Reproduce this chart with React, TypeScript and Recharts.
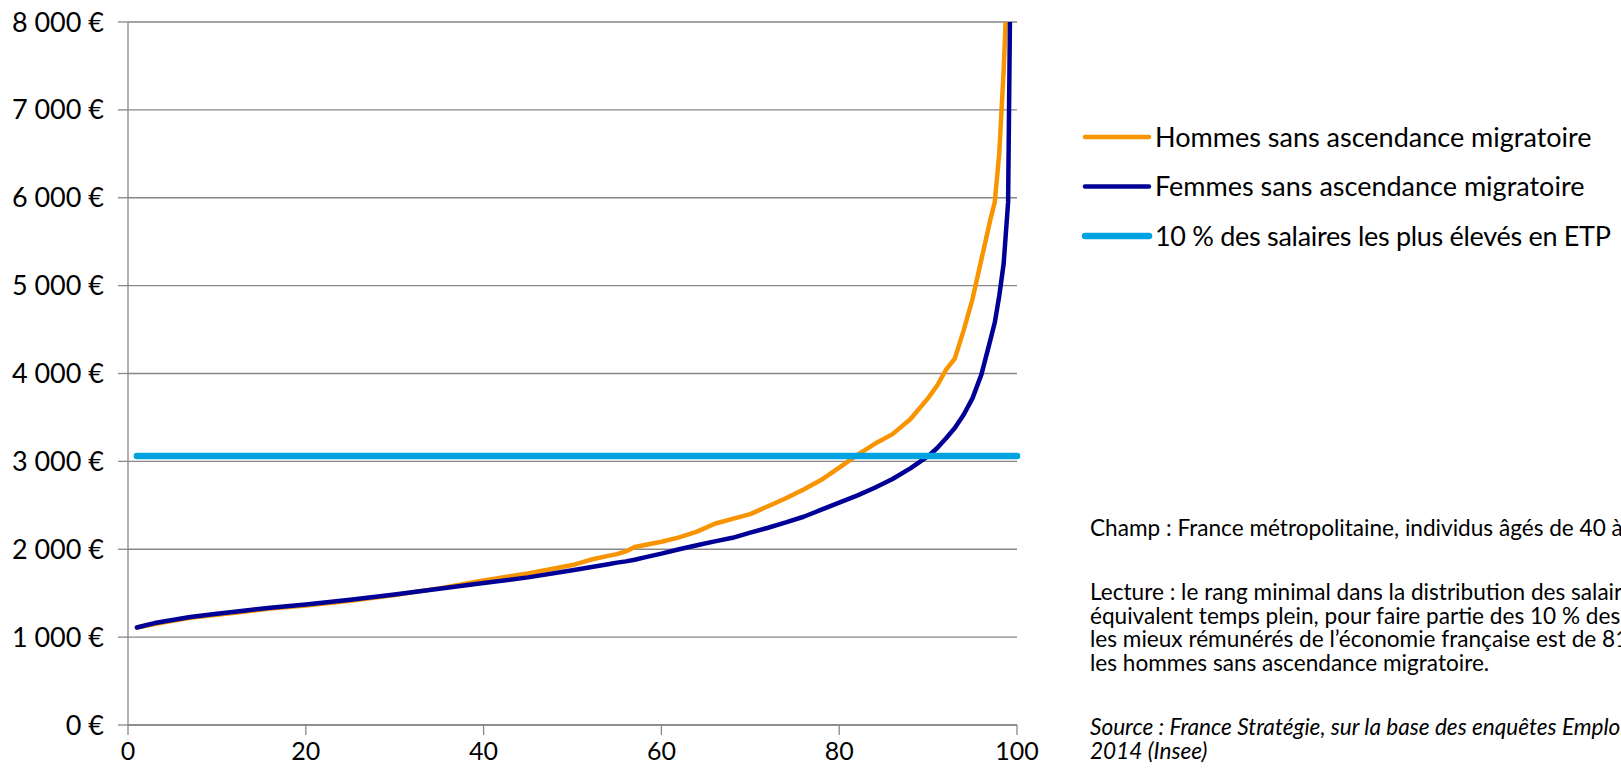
import { CartesianGrid, Legend, Line, LineChart, XAxis, YAxis } from "recharts";

// percentile rank in the wage distribution (full-time equivalent)
const percentiles = [
  1, 2, 3, 5, 7, 10, 13, 16, 20, 25, 30, 35, 40, 45, 50, 52, 54, 55, 56, 57, 58, 60, 62, 64, 66,
  68, 70, 72, 74, 76, 78, 80, 82, 84, 86, 88, 90, 91, 92, 93, 94, 95, 96, 97, 97.5, 98, 98.5, 99,
  99.5, 100,
];

const hommes = [
  1110, 1130, 1150, 1185, 1220, 1255, 1290, 1325, 1360, 1415, 1480, 1555, 1645, 1725, 1820, 1880,
  1925, 1945, 1975, 2025, 2045, 2085, 2135, 2200, 2290, 2345, 2400, 2490, 2580, 2680, 2790, 2930,
  3070, 3200, 3310, 3480, 3720, 3860, 4040, 4170, 4490, 4850, 5300, 5750, 5950, 6500, 7450, 8700,
  14000, 20000,
];

const femmes = [
  1110, 1135, 1160, 1195, 1230, 1265, 1300, 1335, 1370, 1425, 1485, 1550, 1615, 1680, 1760, 1795,
  1830, 1848, 1862, 1880, 1905, 1950, 2000, 2045, 2090, 2130, 2190, 2245, 2305, 2370, 2450, 2530,
  2610, 2700, 2800, 2920, 3060, 3150, 3260, 3380, 3530, 3720, 3990, 4380, 4580, 4880, 5250, 5950,
  11000, 16000,
];

// threshold of the top 10 % FTE wages, drawn from rank 1 to rank 100
const seuilPercentiles = [1, 100];
const seuilValeurs = [3060, 3060];

const xTicks = [0, 20, 40, 60, 80, 100];
const yTicks = [0, 1000, 2000, 3000, 4000, 5000, 6000, 7000, 8000];

const series = [
  { key: "hommes", name: "Hommes sans ascendance migratoire", color: "#F79400", width: 4.5, spacing: 0 },
  { key: "femmes", name: "Femmes sans ascendance migratoire", color: "#000096", width: 4.5, spacing: 0 },
  { key: "seuil", name: "10 % des salaires les plus élevés en ETP", color: "#00A2E1", width: 6.5, spacing: -0.3 },
];

const notes = [
  { text: "Champ : France métropolitaine, individus âgés de 40 à 59 ans.", y: 536, italic: false },
  { text: "Lecture : le rang minimal dans la distribution des salaires en", y: 600, italic: false },
  { text: "équivalent temps plein, pour faire partie des 10 % des salariés", y: 623.5, italic: false },
  { text: "les mieux rémunérés de l’économie française est de 81 pour", y: 647, italic: false },
  { text: "les hommes sans ascendance migratoire.", y: 670.5, italic: false },
  { text: "Source : France Stratégie, sur la base des enquêtes Emploi", y: 735, italic: true },
  { text: "2014 (Insee)", y: 758.5, italic: true },
];

const FONT = "Lato, 'Open Sans', sans-serif";
const GRID = "#878787";

const rows = percentiles.map((p, i) => ({ p, hommes: hommes[i], femmes: femmes[i] }));
const seuilRows = seuilPercentiles.map((p, i) => ({ p, seuil: seuilValeurs[i] }));

function euros(v: number): string {
  return `${String(v).replace(/\B(?=(\d{3})+(?!\d))/g, " ")} €`;
}

function LegendBox() {
  return (
    <svg width={551} height={170}>
      {series.map((s, i) => {
        const cy = 37 + i * 49.5;
        return (
          <g key={s.key}>
            <line
              x1={15}
              x2={79}
              y1={cy}
              y2={cy}
              stroke={s.color}
              strokeWidth={s.width}
              strokeLinecap="round"
            />
            <text
              x={85}
              y={cy + 9.5}
              fontFamily={FONT}
              fontSize={27}
              letterSpacing={s.spacing}
              fill="#000"
            >
              {s.name}
            </text>
          </g>
        );
      })}
    </svg>
  );
}

export default function App() {
  return (
    <div
      style={{
        position: "absolute",
        left: 0,
        top: 0,
        width: 1621,
        height: 773,
        overflow: "hidden",
        background: "#fff",
      }}
    >
      <LineChart
        width={1621}
        height={773}
        data={rows}
        margin={{ top: 22, right: 604, bottom: 0, left: 0 }}
      >
        <CartesianGrid vertical={false} stroke={GRID} strokeWidth={1.3} />
        <XAxis
          dataKey="p"
          type="number"
          domain={[0, 100]}
          ticks={xTicks}
          height={48}
          tickSize={10}
          tickMargin={7}
          stroke={GRID}
          strokeWidth={1.3}
          tick={{ fill: "#000", fontSize: 25, fontFamily: FONT }}
        />
        <YAxis
          type="number"
          domain={[0, 8000]}
          ticks={yTicks}
          allowDataOverflow
          width={128}
          tickSize={10}
          tickMargin={14}
          stroke={GRID}
          strokeWidth={1.3}
          tickFormatter={euros}
          tick={{ fill: "#000", fontSize: 27, fontFamily: FONT }}
        />
        <Line
          dataKey="hommes"
          name={series[0].name}
          stroke={series[0].color}
          strokeWidth={series[0].width}
          strokeLinecap="round"
          strokeLinejoin="round"
          dot={false}
          type="linear"
          isAnimationActive={false}
        />
        <Line
          dataKey="femmes"
          name={series[1].name}
          stroke={series[1].color}
          strokeWidth={series[1].width}
          strokeLinecap="round"
          strokeLinejoin="round"
          dot={false}
          type="linear"
          isAnimationActive={false}
        />
        <Line
          data={seuilRows}
          dataKey="seuil"
          name={series[2].name}
          stroke={series[2].color}
          strokeWidth={series[2].width}
          strokeLinecap="round"
          dot={false}
          type="linear"
          isAnimationActive={false}
        />
        <Legend
          layout="vertical"
          verticalAlign="middle"
          align="center"
          wrapperStyle={{ left: 1070, top: 100, width: 551 }}
          content={() => <LegendBox />}
        />
      </LineChart>
      <svg
        width={1621}
        height={773}
        style={{ position: "absolute", left: 0, top: 0, pointerEvents: "none" }}
      >
        {notes.map((n) => (
          <text
            key={n.text}
            x={1090}
            y={n.y}
            fontFamily={FONT}
            fontSize={22.6}
            fontStyle={n.italic ? "italic" : "normal"}
            fill="#000"
          >
            {n.text}
          </text>
        ))}
      </svg>
    </div>
  );
}
